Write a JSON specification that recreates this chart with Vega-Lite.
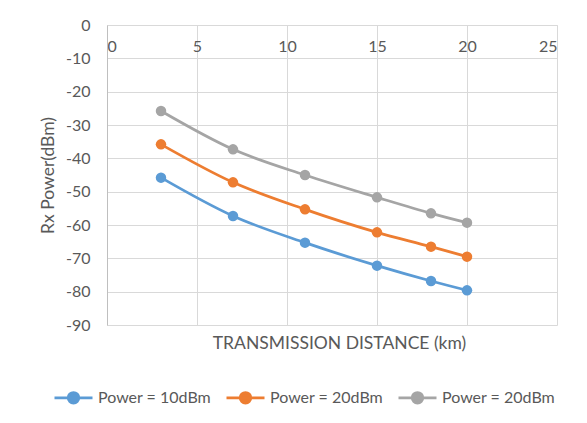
{
  "$schema": "https://vega.github.io/schema/vega-lite/v6.json",
  "width": 450,
  "height": 300,
  "autosize": {"type": "none"},
  "padding": {"left": 107, "top": 25, "right": 30, "bottom": 98},
  "background": "white",
  "config": {
    "font": "Lato",
    "view": {"stroke": null},
    "axis": {"labelColor": "#595959", "titleColor": "#595959", "labelFont": "Lato", "titleFont": "Lato", "titleFontWeight": "normal", "gridColor": "#d9d9d9", "gridWidth": 1, "ticks": false}
  },
  "data": {
    "values": [
      {"distance": 3, "power": -45.8, "series": "Power = 10dBm"},
      {"distance": 7, "power": -57.3, "series": "Power = 10dBm"},
      {"distance": 11, "power": -65.3, "series": "Power = 10dBm"},
      {"distance": 15, "power": -72.2, "series": "Power = 10dBm"},
      {"distance": 18, "power": -76.8, "series": "Power = 10dBm"},
      {"distance": 20, "power": -79.6, "series": "Power = 10dBm"},
      {"distance": 3, "power": -35.8, "series": "Power = 20dBm"},
      {"distance": 7, "power": -47.2, "series": "Power = 20dBm"},
      {"distance": 11, "power": -55.3, "series": "Power = 20dBm"},
      {"distance": 15, "power": -62.2, "series": "Power = 20dBm"},
      {"distance": 18, "power": -66.5, "series": "Power = 20dBm"},
      {"distance": 20, "power": -69.5, "series": "Power = 20dBm"},
      {"distance": 3, "power": -25.8, "series": "Power = 20dBm (2)"},
      {"distance": 7, "power": -37.3, "series": "Power = 20dBm (2)"},
      {"distance": 11, "power": -45.0, "series": "Power = 20dBm (2)"},
      {"distance": 15, "power": -51.7, "series": "Power = 20dBm (2)"},
      {"distance": 18, "power": -56.5, "series": "Power = 20dBm (2)"},
      {"distance": 20, "power": -59.3, "series": "Power = 20dBm (2)"}
    ]
  },
  "encoding": {
    "x": {
      "field": "distance", "type": "quantitative",
      "scale": {"domain": [0, 25], "nice": false, "zero": false},
      "axis": {
        "orient": "bottom", "offset": -300, "values": [0, 5, 10, 15, 20, 25],
        "labelFontSize": 16, "labelPadding": 13, "domainColor": "#d9d9d9",
        "title": "TRANSMISSION DISTANCE (km)", "titleFontSize": 17.5,
        "titleY": 318, "titleBaseline": "middle", "titleX": 232
      }
    },
    "y": {
      "field": "power", "type": "quantitative",
      "scale": {"domain": [-90, 0], "nice": false, "zero": false},
      "axis": {
        "values": [-90, -80, -70, -60, -50, -40, -30, -20, -10, 0],
        "labelExpr": "'' + datum.value",
        "labelFontSize": 16, "labelPadding": 17, "domainColor": "#bfbfbf",
        "title": "Rx Power(dBm)", "titleFontSize": 17.5, "titlePadding": 8
      }
    },
    "color": {
      "field": "series", "type": "nominal",
      "scale": {"domain": ["Power = 10dBm", "Power = 20dBm", "Power = 20dBm (2)"], "range": ["#5B9BD5", "#ED7D31", "#A5A5A5"]},
      "legend": {
        "title": null, "orient": "none", "legendX": -54, "legendY": 352, "direction": "horizontal",
        "symbolType": "M-1,0L1,0M-0.28,0A0.28,0.28,0,1,1,0.28,0A0.28,0.28,0,1,1,-0.28,0Z",
        "symbolSize": 1444, "symbolStrokeWidth": 2.75, "symbolOpacity": 1,
        "labelFontSize": 16, "labelColor": "#595959", "labelOffset": 4, "columnPadding": 9,
        "labelExpr": "replace(datum.label, ' (2)', '')"
      }
    }
  },
  "layer": [
    {"mark": {"type": "line", "interpolate": "monotone", "strokeWidth": 2.75}},
    {"mark": {"type": "point", "filled": true, "size": 110, "opacity": 1}}
  ]
}
